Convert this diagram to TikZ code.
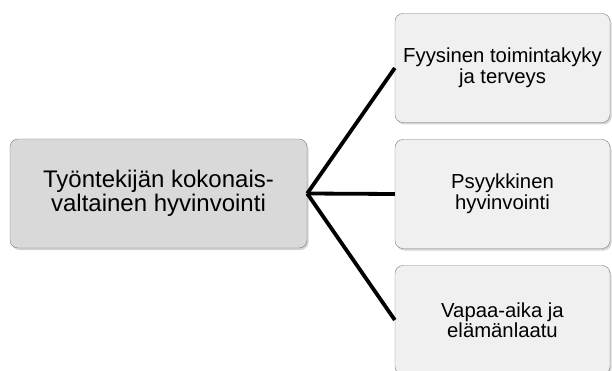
\documentclass[tikz,border=0pt]{standalone}
\usepackage{fontspec}
\setmainfont{Liberation Sans}
\usetikzlibrary{shadows}
\definecolor{boxgray}{RGB}{217,217,217}
\definecolor{boxlight}{RGB}{240,240,240}
\definecolor{boxline}{RGB}{125,125,125}
\begin{document}
\begin{tikzpicture}[x=1pt,y=-1pt,
  mainbox/.style={draw=boxline, fill=boxgray, rounded corners=8pt, minimum width=297pt, minimum height=109pt, align=center, font=\fontsize{24}{23.5}\selectfont, drop shadow={opacity=0.35, shadow xshift=1.5pt, shadow yshift=-2pt}},
  subbox/.style={draw=boxline, fill=boxlight, rounded corners=8pt, minimum width=215pt, minimum height=109pt, align=center, font=\fontsize{20.3}{20.5}\selectfont, drop shadow={opacity=0.35, shadow xshift=1.5pt, shadow yshift=-2pt}},
  link/.style={line width=3.8pt, black}]
\useasboundingbox (0,0) rectangle (612,371);

\node [mainbox] (main) at (158.5,193.5) {Työntekijän kokonais-\\valtainen hyvinvointi};

\node [subbox] (phys) at (502.5,68) {Fyysinen toimintakyky\\ja terveys};
\node [subbox] (psych) at (502.5,194) {Psyykkinen\\hyvinvointi};
\node [subbox] (leisure) at (502.5,320) {Vapaa-aika ja\\elämänlaatu};

\draw [link] (main.east) -- (phys.west);
\draw [link] (main.east) -- (psych.west);
\draw [link] (main.east) -- (leisure.west);

\end{tikzpicture}
\end{document}
